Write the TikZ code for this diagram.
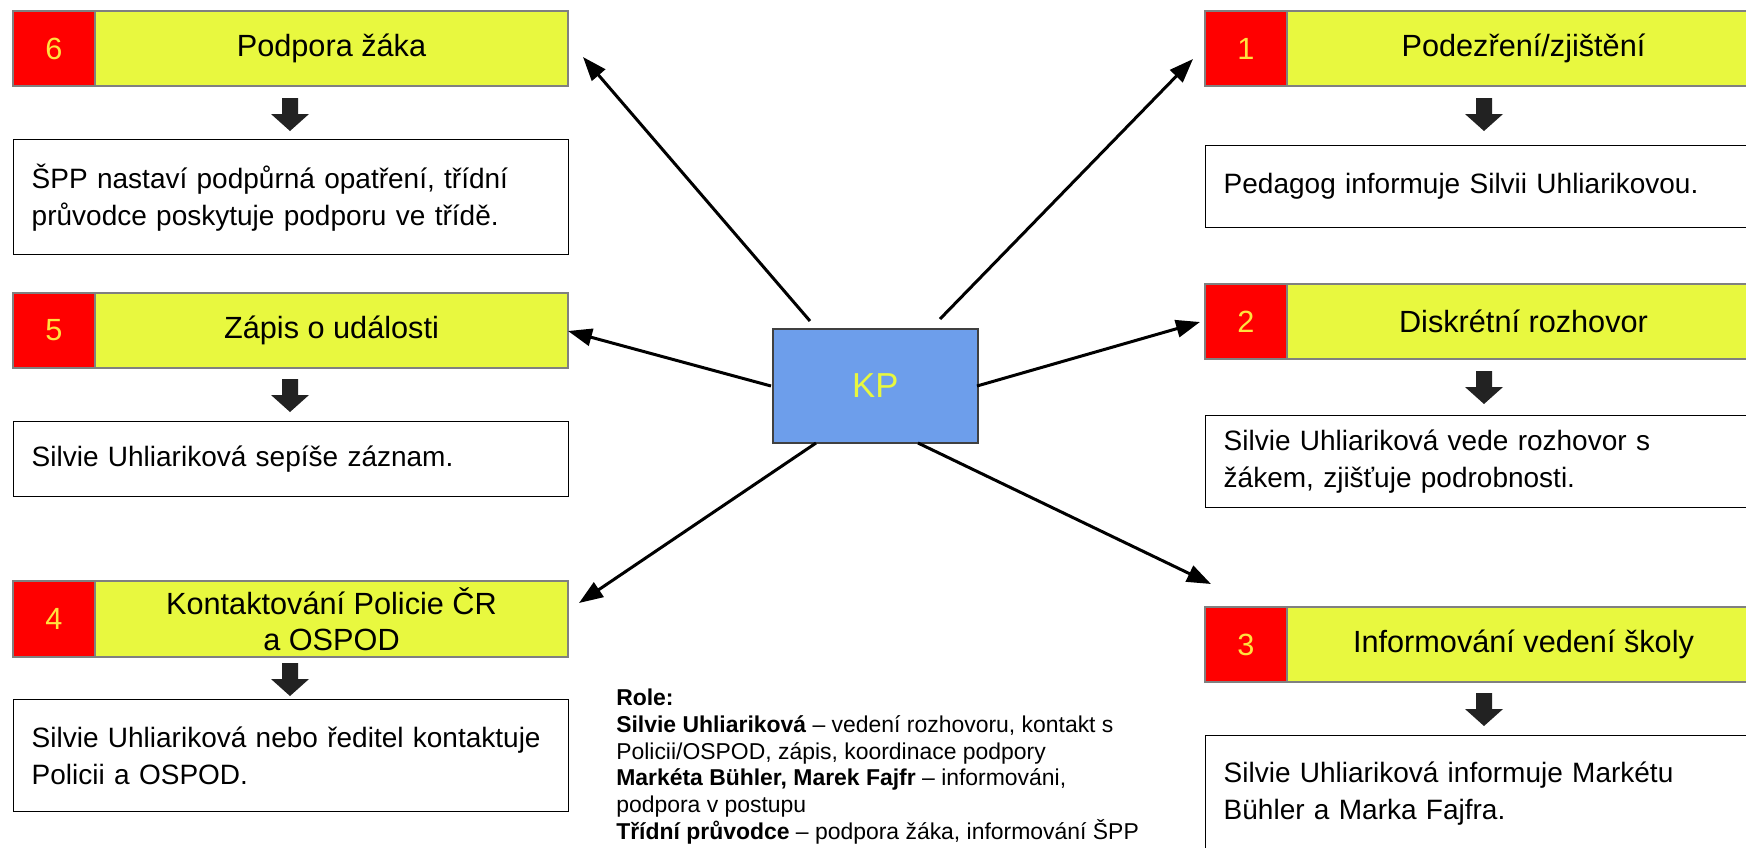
\documentclass[tikz,border=0pt]{standalone}
\usepackage{fontspec}
\setmainfont{Liberation Sans}
\usetikzlibrary{arrows.meta}
\definecolor{hdryellow}{HTML}{E8F83F}
\definecolor{numred}{HTML}{FF0000}
\definecolor{numyellow}{HTML}{FFE23F}
\definecolor{kpblue}{HTML}{6D9EEB}
\definecolor{kptext}{HTML}{E8F83F}
\definecolor{arrowdark}{HTML}{222222}
\definecolor{hdrborder}{HTML}{808080}
\begin{document}
\begin{tikzpicture}[x=0.75pt,y=-0.75pt,
  numbox/.style={draw=hdrborder, line width=0.8pt, fill=numred, text=numyellow,
    minimum width=61.5pt, minimum height=#1, inner sep=0pt, outer sep=0pt,
    font=\fontsize{23}{27}\selectfont, anchor=north west},
  numbox/.default=56.25pt,
  titlebox/.style={draw=hdrborder, line width=0.8pt, fill=hdryellow, text=black,
    minimum width=354.75pt, minimum height=#1, inner sep=0pt, outer sep=0pt, align=center,
    font=\fontsize{23}{27}\selectfont, anchor=north west},
  titlebox/.default=56.25pt,
  descbox/.style={draw=black, line width=1.1pt, fill=white, anchor=north west,
    text width=389.25pt, inner xsep=13.5pt, inner ysep=0pt, minimum height=#1,
    align=left, font=\fontsize{21}{27.75}\selectfont},
  kpbox/.style={draw=black!75, line width=1.2pt, fill=kpblue, text=kptext,
    minimum width=153.75pt, minimum height=85.5pt, anchor=north west,
    font=\fontsize{26}{30}\selectfont},
  conn/.style={line width=2.25pt, -{Triangle[length=18pt,width=13pt]}},
  downarrow/.pic={\fill[arrowdark] (-8,0) -- (8,0) -- (8,16) -- (19,16) -- (0,33) -- (-19,16) -- (-8,16) -- cycle;}
]
\useasboundingbox (0,0) rectangle (1746,847);
\clip (0,0) rectangle (1746,847);
\fill[white] (0,0) rectangle (1746,847);

% left column
\node[numbox] (n6) at (13,11) {6};
\node[titlebox] (t6) at (n6.north east) {Podpora žáka};
\pic at (290,98) {downarrow};
\node[descbox=86.25pt] (d6) at (13,139) {ŠPP nastaví podpůrná opatření, třídní\\průvodce poskytuje podporu ve třídě.};

\node[numbox] (n5) at (13,293) {5};
\node[titlebox] (t5) at (n5.north east) {Zápis o události};
\pic at (290,379) {downarrow};
\node[descbox=56.25pt] (d5) at (13,421) {Silvie Uhliariková sepíše záznam.};

\node[numbox=57pt] (n4) at (13,581) {4};
\node[titlebox=57pt] (t4) at (n4.north east) {Kontaktování Policie ČR\\a OSPOD};
\pic at (290,663) {downarrow};
\node[descbox=84pt] (d4) at (13,699) {Silvie Uhliariková nebo ředitel kontaktuje\\Policii a OSPOD.};

% right column
\node[numbox] (n1) at (1205,11) {1};
\node[titlebox] (t1) at (n1.north east) {Podezření/zjištění};
\pic at (1484,98) {downarrow};
\node[descbox=61.5pt] (d1) at (1205,145) {Pedagog informuje Silvii Uhliarikovou.};

\node[numbox] (n2) at (1205,284) {2};
\node[titlebox] (t2) at (n2.north east) {Diskrétní rozhovor};
\pic at (1484,371) {downarrow};
\node[descbox=69pt] (d2) at (1205,415) {Silvie Uhliariková vede rozhovor s\\žákem, zjišťuje podrobnosti.};

\node[numbox] (n3) at (1205,607) {3};
\node[titlebox] (t3) at (n3.north east) {Informování vedení školy};
\pic at (1484,693) {downarrow};
\node[descbox=86.25pt] (d3) at (1205,735) {Silvie Uhliariková informuje Markétu\\Bühler a Marka Fajfra.};

% centre
\node[kpbox] (kp) at (772,328) {KP};

% connector ends
\coordinate (s6) at (810,321); \coordinate (e6) at (583,57);
\coordinate (s1) at (940,319); \coordinate (e1) at (1193,59);
\coordinate (s5) at (771,386); \coordinate (e5) at (568,331);
\coordinate (s2) at (977,386); \coordinate (e2) at (1200,322);
\coordinate (s4) at (816,443); \coordinate (e4) at (579,603);
\coordinate (s3) at (918,443); \coordinate (e3) at (1211,584);
\draw[conn] (s6) -- (e6);
\draw[conn] (s1) -- (e1);
\draw[conn] (s5) -- (e5);
\draw[conn] (s2) -- (e2);
\draw[conn] (s4) -- (e4);
\draw[conn] (s3) -- (e3);

% roles
\node[anchor=north west, inner sep=0pt, align=left, font=\fontsize{17.2}{20}\selectfont] (roles) at (616,689)
{\textbf{Role:}\\
\textbf{Silvie Uhliariková} – vedení rozhovoru, kontakt s\\
Policii/OSPOD, zápis, koordinace podpory\\
\textbf{Markéta Bühler, Marek Fajfr} – informováni,\\
podpora v postupu\\
\textbf{Třídní průvodce} – podpora žáka, informování ŠPP};
\end{tikzpicture}
\end{document}
